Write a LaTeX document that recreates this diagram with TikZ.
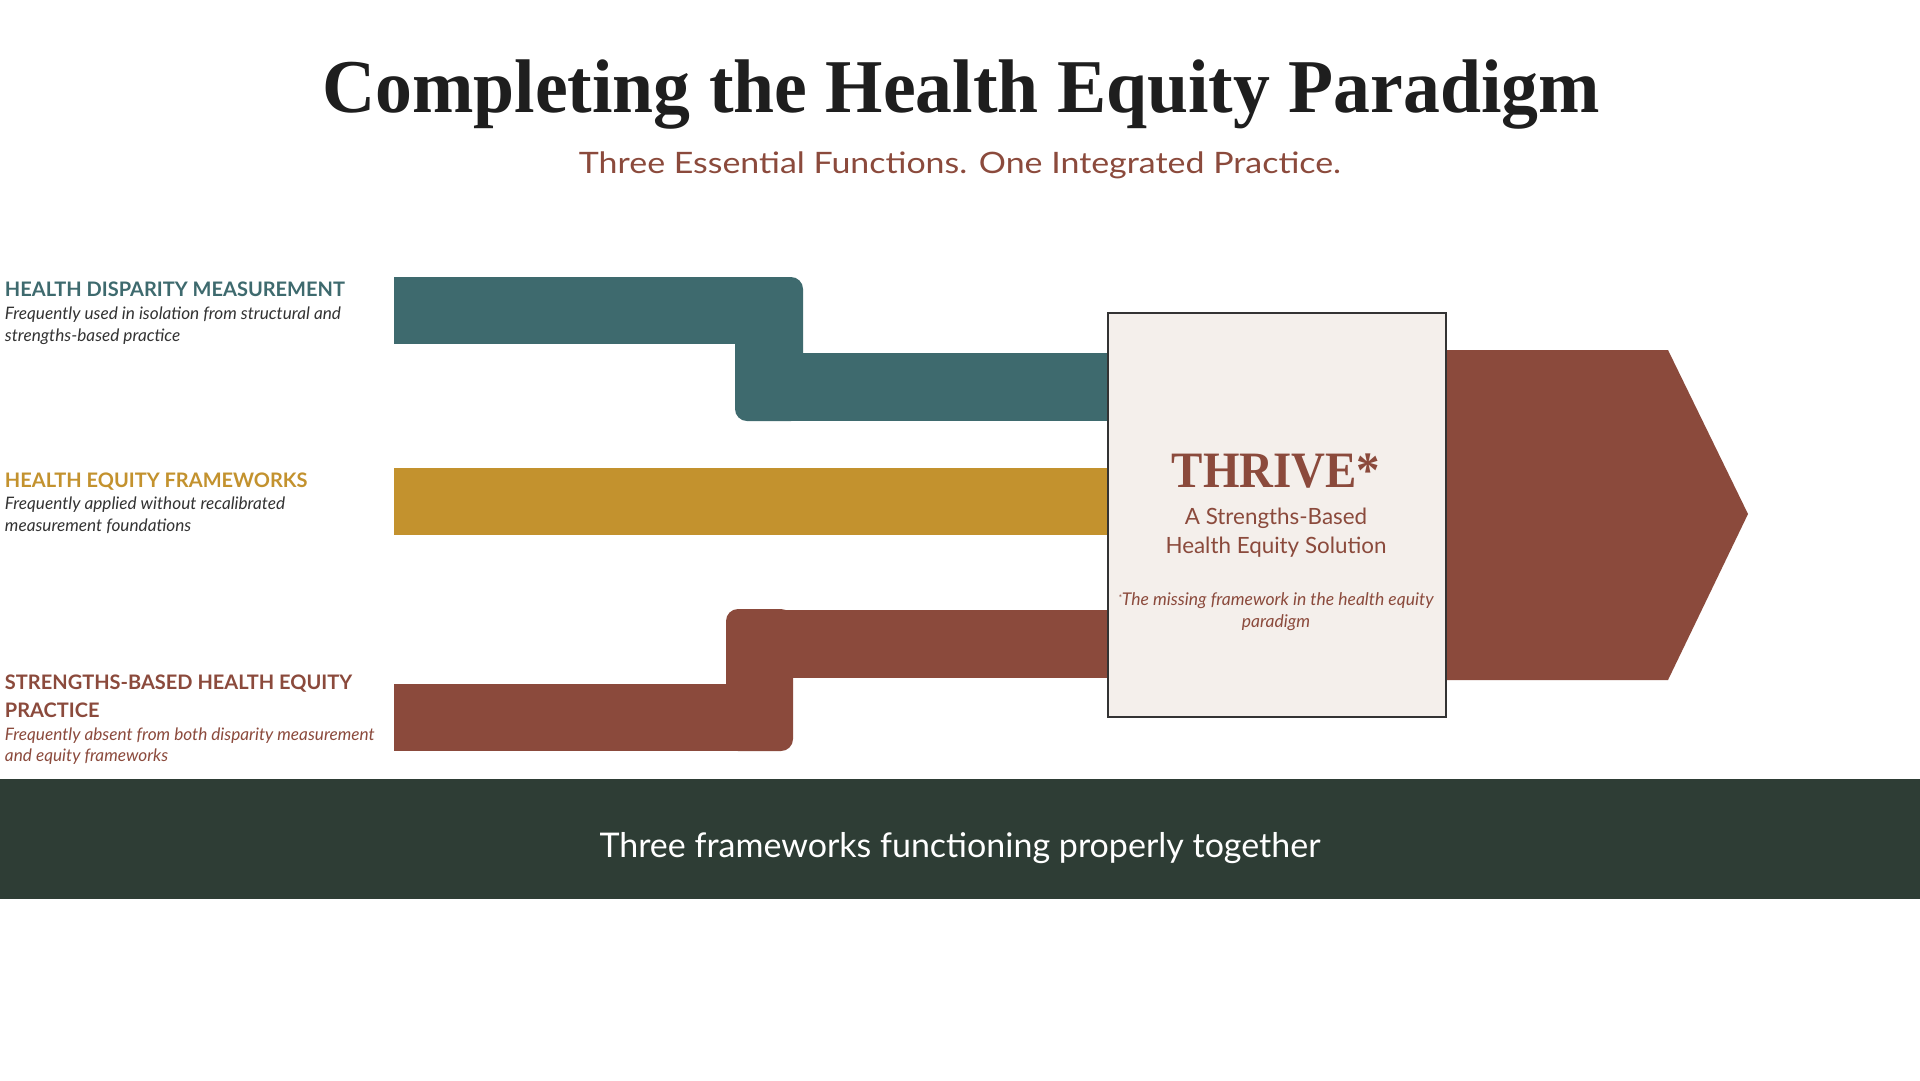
\documentclass[tikz,border=0pt]{standalone}
\usepackage{fontspec}
\setmainfont{Lato}
\newfontfamily\titlefont[FakeStretch=0.97]{Liberation Serif}
\newfontfamily\thrivefont[FakeStretch=0.92]{Liberation Serif}
\newfontfamily\bodyfont{Lato}
\newfontfamily\subfont[FakeStretch=1.15]{Lato}
\definecolor{teal}{HTML}{3E6A6E}
\definecolor{gold}{HTML}{C3922E}
\definecolor{brown}{HTML}{8B4A3C}
\definecolor{boxfill}{HTML}{F4EFEB}
\definecolor{boxline}{HTML}{333333}
\definecolor{band}{HTML}{2E3D35}
\definecolor{ink}{HTML}{1E1E1E}
\definecolor{desc}{HTML}{333333}
\tikzset{
  txt/.style={inner sep=0pt, outer sep=0pt},
  headlbl/.style={txt, anchor=base west, font=\bodyfont\bfseries\fontsize{20}{24}\selectfont},
  desclbl/.style={txt, anchor=base west, font=\bodyfont\itshape\fontsize{17.2}{20}\selectfont},
}
\begin{document}
\begin{tikzpicture}[x=1pt,y=-1pt]
\useasboundingbox (0,0) rectangle (1920,1080);
\fill[white] (0,0) rectangle (1920,1080);

% title
\node[txt, anchor=base, text=ink, font=\titlefont\bfseries\fontsize{76}{80}\selectfont] (title) at (961,112) {Completing the Health Equity Paradigm};
\node[txt, anchor=base, text=brown, font=\subfont\fontsize{29.5}{34}\selectfont] (subtitle) at (960,173) {Three Essential Functions. One Integrated Practice.};

% teal stepped bar
\fill[teal] (394,277) rectangle (770,344);
\fill[teal, rounded corners=12pt] (735,277) rectangle (803,421);
\fill[teal] (770,353) rectangle (1110,421);

% gold bar
\fill[gold] (394,468) rectangle (1110,535);

% brown stepped bar
\fill[brown] (394,684) rectangle (760,751);
\fill[brown, rounded corners=12pt] (726,609) rectangle (793,751);
\fill[brown] (760,610) rectangle (1110,678);

% arrow
\fill[brown] (1440,350) -- (1668,350) -- (1748,514) -- (1668,680) -- (1440,680) -- cycle;

% THRIVE box
\node[draw=boxline, line width=2pt, fill=boxfill, minimum width=338pt, minimum height=404pt, inner sep=0pt, anchor=north west] (box) at (1107,312) {};
\node[txt, anchor=base, text=brown, font=\thrivefont\bfseries\fontsize{51}{56}\selectfont] (thrive) at (1276,487) {THRIVE*};
\node[txt, anchor=base, text=brown, font=\bodyfont\fontsize{22.4}{26}\selectfont] (sub1) at (1276,524) {A Strengths-Based};
\node[txt, anchor=base, text=brown, font=\bodyfont\fontsize{22.4}{26}\selectfont] (sub2) at (1276,553) {Health Equity Solution};
\node[txt, anchor=base, text=brown, font=\bodyfont\itshape\fontsize{17.5}{20}\selectfont] (miss1) at (1276,605) {\raisebox{4pt}{\fontsize{9}{10}\selectfont *}The missing framework in the health equity};
\node[txt, anchor=base, text=brown, font=\bodyfont\itshape\fontsize{17.5}{20}\selectfont] (miss2) at (1276,627) {paradigm};

% left labels
\node[headlbl, text=teal] (h1) at (5,296) {HEALTH DISPARITY MEASUREMENT};
\node[desclbl, text=desc] (d1a) at (5,319) {Frequently used in isolation from structural and};
\node[desclbl, text=desc] (d1b) at (5,341) {strengths-based practice};

\node[headlbl, text=gold] (h2) at (5,487.5) {HEALTH EQUITY FRAMEWORKS};
\node[desclbl, text=desc] (d2a) at (5,509.5) {Frequently applied without recalibrated};
\node[desclbl, text=desc] (d2b) at (5,531.5) {measurement foundations};

\node[headlbl, text=brown] (h3a) at (5,689) {STRENGTHS-BASED HEALTH EQUITY};
\node[headlbl, text=brown] (h3b) at (5,717) {PRACTICE};
\node[desclbl, text=brown] (d3a) at (5,740) {Frequently absent from both disparity measurement};
\node[desclbl, text=brown] (d3b) at (5,761) {and equity frameworks};

% bottom band
\fill[band] (0,779) rectangle (1920,899);
\node[txt, anchor=base, text=white, font=\bodyfont\fontsize{34}{38}\selectfont] (bandtxt) at (960,857) {Three frameworks functioning properly together};
\end{tikzpicture}
\end{document}
